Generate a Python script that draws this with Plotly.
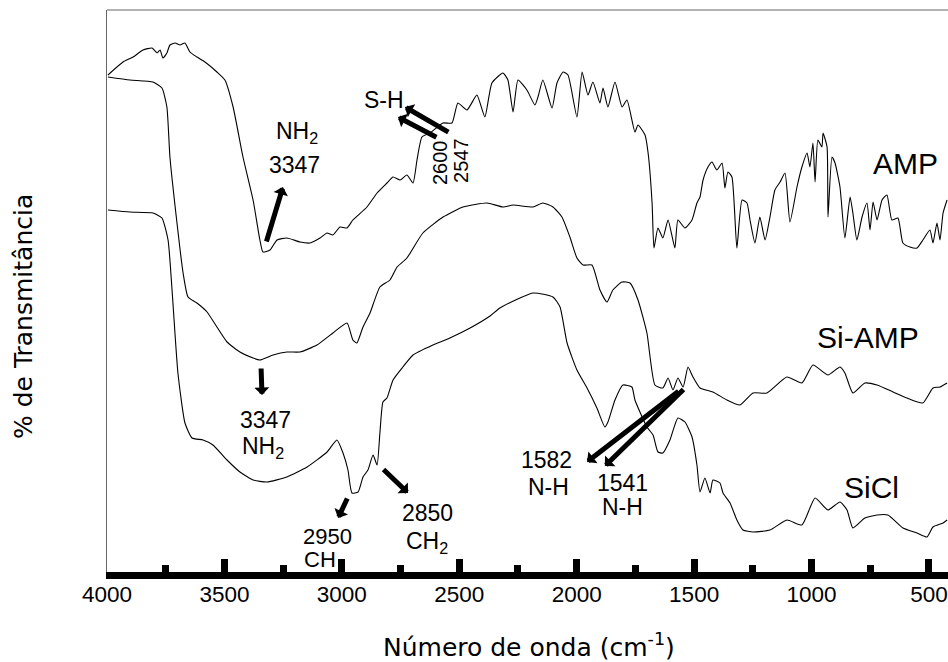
import plotly.graph_objects as go

# ---------------- data (wavenumber cm-1, transmittance a.u.) ----------------
amp_wn = [3996, 3932, 3889, 3847, 3808, 3787, 3774, 3762, 3745, 3732, 3710, 3689, 3668, 3647, 3617, 3583,
          3532, 3498, 3463, 3421, 3378, 3349, 3336, 3306, 3276, 3234, 3178, 3136, 3093, 3063, 3038, 3008,
          2978, 2953, 2893, 2850, 2808, 2782, 2752, 2723, 2697, 2680, 2659, 2625, 2569, 2531, 2506, 2467,
          2425, 2391, 2361, 2314, 2293, 2271, 2250, 2212, 2178, 2165, 2144, 2105, 2084, 2058, 2037, 1999,
          1977, 1952, 1931, 1901, 1888, 1867, 1837, 1807, 1786, 1752, 1739, 1709, 1696, 1679, 1671, 1654,
          1633, 1611, 1582, 1569, 1539, 1509, 1488, 1475, 1462, 1441, 1424, 1403, 1381, 1369, 1356, 1339,
          1318, 1296, 1275, 1262, 1241, 1220, 1198, 1177, 1156, 1134, 1113, 1092, 1062, 1041, 1019, 1007,
          994, 985, 973, 956, 951, 934, 930, 913, 900, 879, 858, 836, 824, 807, 785, 764, 751, 738, 721,
          700, 679, 658, 632, 611, 581, 551, 526, 496, 483, 466, 453, 440, 423]
amp_t = [494, 507, 512, 519, 521, 516, 519, 511, 516, 524, 526, 524, 526, 517, 512, 507,
         497, 489, 462, 412, 369, 329, 317, 319, 329, 331, 327, 326, 331, 336, 334, 342,
         341, 349, 362, 376, 386, 392, 389, 394, 386, 409, 432, 436, 446, 446, 466, 459,
         474, 452, 486, 496, 489, 457, 489, 479, 464, 472, 489, 461, 486, 497, 494, 452,
         497, 474, 487, 466, 481, 462, 487, 462, 469, 437, 444, 434, 416, 366, 321, 341,
         331, 349, 321, 349, 341, 349, 366, 372, 389, 402, 407, 399, 406, 381, 397, 392,
         321, 369, 366, 349, 326, 352, 329, 352, 379, 387, 396, 347, 382, 402, 416, 402,
         426, 387, 429, 422, 436, 422, 352, 412, 406, 382, 331, 372, 356, 329, 352, 366, 339, 367, 349,
         369, 374, 349, 351, 326, 322, 321, 329, 339, 326, 346, 329, 356, 369]

siamp_wn = [3996, 3902, 3804, 3766, 3745, 3732, 3702, 3676, 3655, 3617, 3574, 3532, 3489, 3434, 3378, 3349,
            3293, 3234, 3178, 3106, 3038, 2978, 2953, 2936, 2910, 2880, 2838, 2795, 2765, 2723, 2655, 2569,
            2484, 2382, 2314, 2271, 2186, 2144, 2101, 2063, 2029, 1999, 1973, 1935, 1901, 1871, 1846, 1807,
            1773, 1739, 1701, 1667, 1633, 1611, 1590, 1569, 1547, 1526, 1505, 1475, 1420, 1360, 1305, 1249,
            1190, 1105, 1041, 994, 930, 879, 858, 824, 773, 721, 653, 594, 526, 483, 453, 423]
siamp_t = [492, 489, 487, 481, 462, 412, 346, 296, 272, 266, 257, 242, 227, 217, 211, 209,
           214, 217, 217, 224, 236, 246, 229, 226, 242, 256, 282, 289, 302, 311, 336, 352,
           362, 366, 362, 364, 362, 366, 362, 352, 332, 311, 304, 304, 279, 267, 279, 287,
           286, 269, 236, 184, 181, 191, 179, 191, 182, 202, 192, 181, 177, 169, 164, 176,
           176, 192, 186, 204, 194, 202, 196, 176, 186, 184, 177, 171, 166, 181, 182, 186]

sicl_wn = [3996, 3902, 3804, 3766, 3740, 3723, 3698, 3668, 3638, 3591, 3549, 3489, 3434, 3378, 3319, 3234,
           3148, 3063, 3021, 2995, 2974, 2957, 2931, 2910, 2889, 2867, 2850, 2838, 2825, 2808, 2782, 2740,
           2697, 2612, 2540, 2454, 2369, 2327, 2186, 2101, 2071, 2041, 1999, 1956, 1914, 1880, 1867, 1837,
           1803, 1765, 1752, 1701, 1675, 1654, 1633, 1603, 1569, 1539, 1509, 1488, 1475, 1454, 1432, 1420,
           1390, 1377, 1347, 1318, 1292, 1249, 1177, 1105, 1041, 985, 930, 879, 849, 824, 773, 721, 675,
           611, 551, 509, 483, 440, 423]
sicl_t = [359, 357, 356, 351, 329, 279, 196, 146, 131, 129, 124, 109, 97, 89, 87, 92,
          102, 117, 129, 116, 99, 76, 77, 92, 99, 114, 104, 136, 167, 171, 189, 202,
          214, 224, 231, 241, 253, 261, 276, 272, 262, 226, 199, 181, 161, 142, 147, 169,
          184, 182, 169, 142, 134, 117, 116, 129, 151, 147, 132, 104, 77, 91, 76, 89,
          86, 76, 66, 49, 39, 37, 39, 49, 44, 71, 59, 67, 59, 41, 51, 54, 54,
          41, 36, 32, 42, 46, 49]

x_tick_vals = [4000, 3500, 3000, 2500, 2000, 1500, 1000, 500]
x_tick_text = ["4000", "3500", "3000", "2500", "2000", "1500", "1000", "500"]

# series labels: text, wavenumber, transmittance
series_labels = [("AMP", 598, 406), ("Si-AMP", 760, 232), ("SiCl", 743, 82)]

# band labels: text, wavenumber, transmittance, angle, size
band_labels = [
    ("NH<sub>2</sub>", 3191, 437, 0, 23),
    ("3347", 3200, 404, 0, 23),
    ("S-H", 2821, 469, 0, 23),
    ("2600", 2582, 406, -90, 20),
    ("2547", 2493, 409, -90, 20),
    ("3347", 3327, 149, 0, 23),
    ("NH<sub>2</sub>", 3336, 122, 0, 23),
    ("2950", 3063, 33, 0, 22),
    ("CH", 3093, 10, 0, 22),
    ("2850", 2637, 56, 0, 23),
    ("CH<sub>2</sub>", 2637, 27, 0, 23),
    ("1582", 2127, 109, 0, 23),
    ("N-H", 2122, 82, 0, 23),
    ("1541", 1807, 86, 0, 23),
    ("N-H", 1807, 62, 0, 23),
]

# arrows: tail (wn, T) on the band, head (wn, T) toward the label
band_arrows = [
    (3323, 326, 3251, 382),
    (2540, 436, 2731, 462),
    (2591, 431, 2761, 452),
    (3344, 202, 3340, 174),
    (2974, 72, 3016, 51),
    (2829, 101, 2718, 76),
    (1560, 179, 1956, 107),
    (1539, 181, 1880, 103),
]

# ---------------- figure ----------------
fig = go.Figure()
for wn, t in [(amp_wn, amp_t), (siamp_wn, siamp_t), (sicl_wn, sicl_t)]:
    fig.add_trace(go.Scatter(x=wn, y=t, mode="lines",
                             line=dict(color="black", width=1.1, shape="spline", smoothing=0.5),
                             showlegend=False, hoverinfo="skip"))

annotations = []
for txt, x, y in series_labels:
    annotations.append(dict(x=x, y=y, xref="x", yref="y", text=txt, showarrow=False,
                            font=dict(family="Arial, Liberation Sans", size=30, color="black")))
for txt, x, y, ang, sz in band_labels:
    annotations.append(dict(x=x, y=y, xref="x", yref="y", text=txt, showarrow=False,
                            textangle=ang,
                            font=dict(family="Arial, Liberation Sans", size=sz, color="black")))
for tx, ty, hx, hy in band_arrows:
    annotations.append(dict(x=hx, y=hy, xref="x", yref="y", ax=tx, ay=ty, axref="x", ayref="y",
                            text="", showarrow=True, arrowhead=1, arrowsize=0.5, arrowwidth=5,
                            arrowcolor="black", standoff=0, startstandoff=0))

annotations.append(dict(x=0.502, y=-0.130, xref="paper", yref="paper",
                        text="Número de onda (cm<sup>-1</sup>)", showarrow=False,
                        xanchor="center", yanchor="middle",
                        font=dict(family="DejaVu Sans", size=25, color="black")))
annotations.append(dict(x=-0.0999, y=0.4555, xref="paper", yref="paper",
                        text="% de Transmitância", showarrow=False, textangle=-90,
                        xanchor="center", yanchor="middle",
                        font=dict(family="DejaVu Sans", size=25, color="black")))

fig.update_layout(
    width=948, height=662,
    margin=dict(l=107, r=0, t=10, b=90),
    paper_bgcolor="white", plot_bgcolor="white",
    showlegend=False,
    annotations=annotations,
    shapes=[dict(type="line", xref="paper", yref="paper", x0=0, x1=1, y0=1, y1=1,
                 line=dict(color="#666666", width=1))],
)
fig.update_xaxes(range=[4000, 419], showgrid=False, zeroline=False,
                 showline=True, linecolor="black", linewidth=7,
                 ticks="inside", ticklen=13, tickwidth=7, tickcolor="black",
                 tickvals=x_tick_vals, ticktext=x_tick_text,
                 tickfont=dict(family="Arial, Liberation Sans", size=22.5, color="black"),
                 ticklabeloverflow="allow",
                 minor=dict(ticks="inside", ticklen=7, tickwidth=7, tickcolor="black", dtick=250,
                            tick0=0, showgrid=False),
                 ticklabelstandoff=-4)
fig.update_yaxes(range=[-3, 559], showgrid=False, zeroline=False, showticklabels=False,
                 showline=True, linecolor="#666666", linewidth=1, ticks="")

# remove the default page margin so the 948x662 figure fills the window exactly
fig.write_html("out.html",
               config={"displayModeBar": False, "staticPlot": True},
               post_script="document.body.style.margin='0';document.body.style.overflow='hidden';")
